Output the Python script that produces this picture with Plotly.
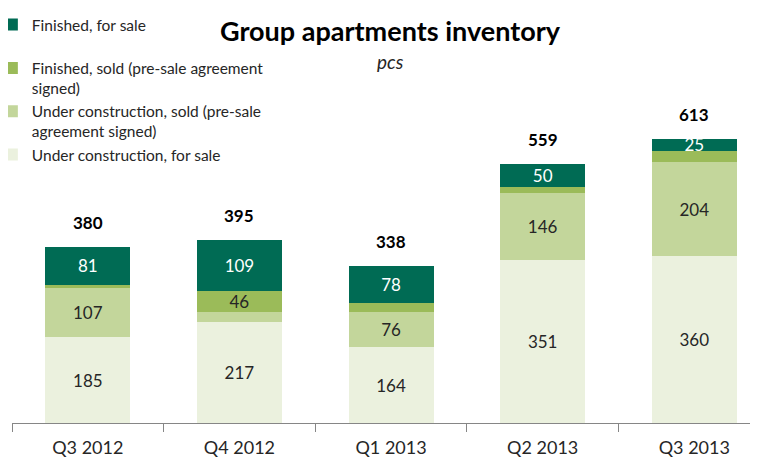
import plotly.graph_objects as go

quarters = ["Q3 2012", "Q4 2012", "Q1 2013", "Q2 2013", "Q3 2013"]

uc_for_sale = [185, 217, 164, 351, 360]
uc_sold = [107, 23, 76, 146, 204]
fin_sold = [7, 46, 20, 12, 24]
fin_for_sale = [81, 109, 78, 50, 25]

# segments too thin in the original carry no label
uc_sold_labels = ["107", "", "76", "146", "204"]
fin_sold_labels = ["", "46", "", "", ""]

totals = [a + b + c + d for a, b, c, d in zip(uc_for_sale, uc_sold, fin_sold, fin_for_sale)]

FONT = "Lato"

series = [
    ("Under construction, for sale", uc_for_sale, [str(v) for v in uc_for_sale], "#EBF1DE", "#262626"),
    ("Under construction, sold (pre-sale<br>agreement signed)", uc_sold, uc_sold_labels, "#C3D69B", "#262626"),
    ("Finished, sold (pre-sale agreement<br>signed)", fin_sold, fin_sold_labels, "#9BBB59", "#262626"),
    ("Finished, for sale<br> ", fin_for_sale, [str(v) for v in fin_for_sale], "#006B54", "#FFFFFF"),
]

fig = go.Figure()
for name, vals, labels, color, tcolor in series:
    fig.add_trace(go.Bar(
        x=quarters,
        y=vals,
        name=name,
        legendgroup=name,
        marker=dict(color=color, line=dict(width=0)),
        width=0.56,
        text=labels,
        textposition="inside",
        insidetextanchor="middle",
        textangle=0,
        constraintext="none",
        textfont=dict(family=FONT, size=17, color=tcolor),
        hoverinfo="x+y+name",
    ))

# totals above each stack
for q, t in zip(quarters, totals):
    fig.add_annotation(
        x=q, y=t, text=f"<b>{t}</b>", showarrow=False,
        yanchor="bottom", yshift=12,
        font=dict(family=FONT, size=17, color="#000000"),
    )

fig.add_annotation(
    xref="paper", yref="paper", x=0.507, y=0.904,
    text="<i>pcs</i>", showarrow=False,
    font=dict(family=FONT, size=19, color="#262626"),
)

fig.update_layout(
    width=758,
    height=458,
    barmode="stack",
    bargap=0.44,
    plot_bgcolor="white",
    paper_bgcolor="white",
    margin=dict(l=4, r=8, t=0, b=43, autoexpand=False),
    title=dict(
        text="<b>Group apartments inventory</b>",
        x=382 / 758, xref="container", xanchor="center",
        y=1 - 24 / 458, yref="container", yanchor="middle",
        font=dict(family=FONT, size=27, color="#000000"),
    ),
    legend=dict(
        xref="paper", yref="container",
        x=-0.027, y=1.0, xanchor="left", yanchor="top",
        traceorder="reversed",
        tracegroupgap=1,
        valign="top",
        itemwidth=30,
        font=dict(family=FONT, size=15.5, color="#262626"),
        bgcolor="rgba(0,0,0,0)",
    ),
    xaxis=dict(
        range=[-0.5, 4.42],
        showline=True, linecolor="#868686", linewidth=1,
        ticks="outside", tickson="boundaries", ticklen=8, tickcolor="#868686",
        ticklabelstandoff=8,
        tickfont=dict(family=FONT, size=18, color="#262626"),
        showgrid=False,
    ),
    yaxis=dict(
        range=[0, 896], visible=False, showgrid=False,
    ),
)

fig.write_html("out.html")
